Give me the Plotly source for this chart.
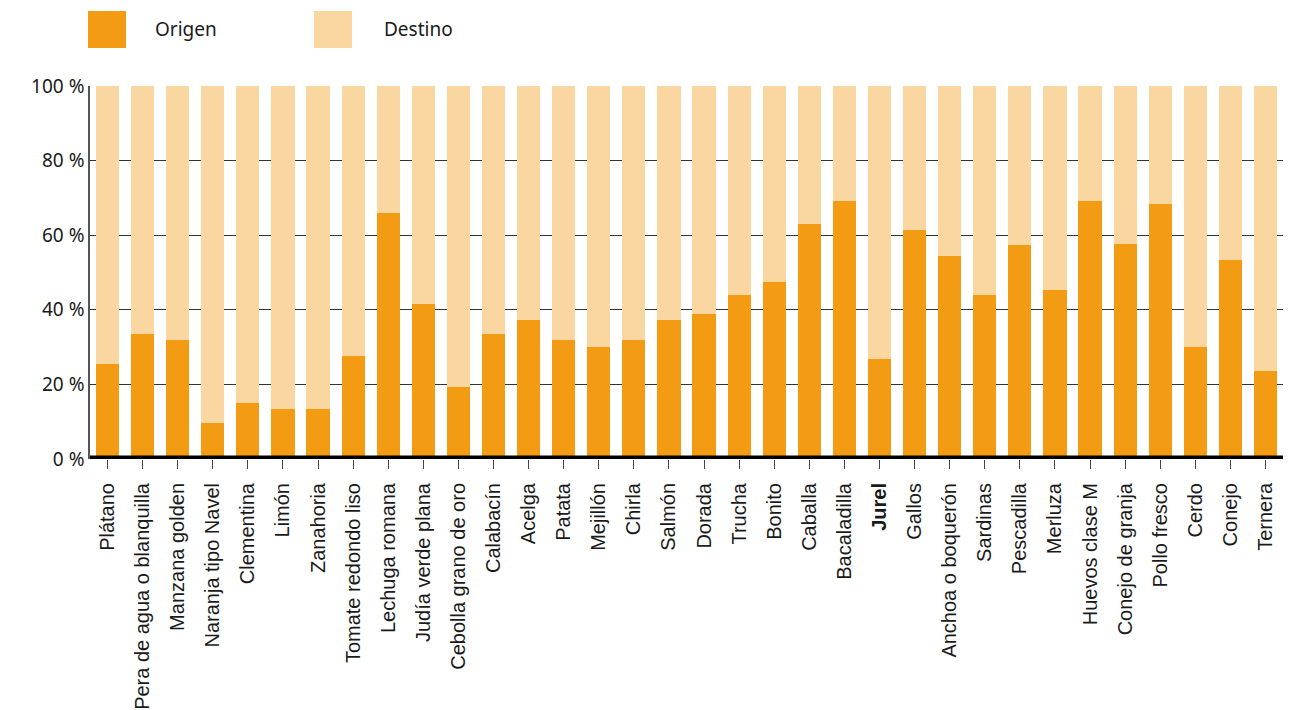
import plotly.graph_objects as go

categorias = ["Plátano", "Pera de agua o blanquilla", "Manzana golden", "Naranja tipo Navel",
              "Clementina", "Limón", "Zanahoria", "Tomate redondo liso", "Lechuga romana",
              "Judía verde plana", "Cebolla grano de oro", "Calabacín", "Acelga", "Patata",
              "Mejillón", "Chirla", "Salmón", "Dorada", "Trucha", "Bonito", "Caballa",
              "Bacaladilla", "Jurel", "Gallos", "Anchoa o boquerón", "Sardinas", "Pescadilla",
              "Merluza", "Huevos clase M", "Conejo de granja", "Pollo fresco", "Cerdo",
              "Conejo", "Ternera"]
origen = [25.4, 33.5, 31.9, 9.6, 15.0, 13.4, 13.4, 27.6, 65.9, 41.5, 19.3, 33.5, 37.2, 31.9,
          30.0, 31.9, 37.2, 38.8, 43.9, 47.4, 62.9, 69.3, 26.8, 61.3, 54.4, 43.9, 57.3,
          45.2, 69.3, 57.6, 68.5, 30.0, 53.3, 23.6]
destino = [round(100 - v, 1) for v in origen]
etiquetas = [f"<b>{c}</b>" if c == "Jurel" else c for c in categorias]
yticks = [0, 20, 40, 60, 80, 100]
yticktext = [f"{v} %" for v in yticks]

C_ORIGEN = "#F39B12"
C_DESTINO = "#FAD6A1"

W, H = 1300, 710
L, R, T, B = 90, 17, 86, 251
pw, ph = W - L - R, H - T - B

def px_x(x):
    return (x - L) / pw

def px_y(y):
    return (H - B - y) / ph

fig = go.Figure()
fig.add_bar(x=categorias, y=origen, name="Origen", marker_color=C_ORIGEN, marker_line_width=0)
fig.add_bar(x=categorias, y=destino, name="Destino", marker_color=C_DESTINO, marker_line_width=0)

fig.update_layout(
    barmode="stack", bargap=0.34, width=W, height=H, autosize=False,
    margin=dict(l=L, r=R, t=T, b=B), paper_bgcolor="white", plot_bgcolor="white",
    showlegend=False,
)
fig.update_xaxes(
    tickmode="array", tickvals=categorias, ticktext=etiquetas, tickangle=-90,
    tickfont=dict(family="Liberation Sans, Arial", size=20, color="#1a1a1a"),
    ticks="outside", ticklen=9, tickcolor="#444", tickwidth=1, showgrid=False,
    ticklabelstandoff=6, automargin=False,
    range=[-0.5, len(categorias) - 0.5],
)
fig.update_yaxes(
    range=[0, 100], tickmode="array", tickvals=yticks, ticktext=yticktext,
    tickfont=dict(family="Noto Sans", size=19, color="#1a1a1a"),
    showgrid=True, gridcolor="#333", gridwidth=1, showline=True, linecolor="#555", linewidth=1.5,
    ticks="", zeroline=False, automargin=False,
)
# thick baseline
fig.add_shape(type="line", xref="paper", yref="y", x0=0, x1=1, y0=0, y1=0,
              line=dict(color="black", width=7), layer="above")

# manual legend
for sx, tx, name, col in [(88, 153, "Origen", C_ORIGEN), (314, 382, "Destino", C_DESTINO)]:
    fig.add_shape(type="rect", xref="paper", yref="paper", x0=px_x(sx), x1=px_x(sx + 38),
                  y0=px_y(48), y1=px_y(11), fillcolor=col, line_width=0)
    fig.add_annotation(xref="paper", yref="paper", x=px_x(tx), y=px_y(29), text=name,
                       showarrow=False, xanchor="left", yanchor="middle",
                       font=dict(family="Noto Sans", size=19, color="#1a1a1a"))

fig.write_html("out.html")
